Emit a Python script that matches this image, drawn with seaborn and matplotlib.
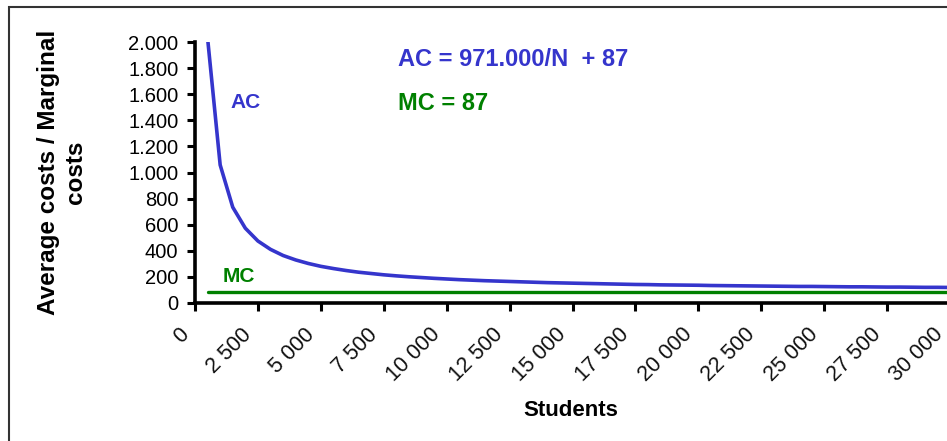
import matplotlib
matplotlib.use("Agg")
import matplotlib.pyplot as plt
import matplotlib.patches as mpatches
from matplotlib.ticker import FuncFormatter
import seaborn as sns
import pandas as pd

# ---- data ----
students = [500, 1000, 1500, 2000, 2500, 3000, 3500, 4000, 4500, 5000,
            5500, 6000, 6500, 7000, 7500, 8000, 8500, 9000, 9500, 10000,
            10500, 11000, 11500, 12000, 12500, 13000, 13500, 14000, 14500, 15000,
            15500, 16000, 16500, 17000, 17500, 18000, 18500, 19000, 19500, 20000,
            20500, 21000, 21500, 22000, 22500, 23000, 23500, 24000, 24500, 25000,
            25500, 26000, 26500, 27000, 27500, 28000, 28500, 29000, 29500, 30000]
ac_values = [2029, 1058, 734, 573, 475, 411, 364, 330, 303, 281,
             264, 249, 236, 226, 216, 208, 201, 195, 189, 184,
             179, 175, 171, 168, 165, 162, 159, 156, 154, 152,
             150, 148, 146, 144, 142, 141, 139, 138, 137, 136,
             134, 133, 132, 131, 130, 129, 128, 127, 127, 126,
             125, 124, 124, 123, 122, 122, 121, 120, 120, 119]
mc_values = [87] * len(students)

x_ticks = [0, 2500, 5000, 7500, 10000, 12500, 15000, 17500, 20000,
           22500, 25000, 27500, 30000]
x_tick_labels = ["0", "2 500", "5 000", "7 500", "10 000", "12 500", "15 000",
                 "17 500", "20 000", "22 500", "25 000", "27 500", "30 000"]
y_ticks = [0, 200, 400, 600, 800, 1000, 1200, 1400, 1600, 1800, 2000]

df = pd.DataFrame({"Students": students, "AC": ac_values, "MC": mc_values})

sns.set_style("ticks")
plt.rcParams["font.family"] = ["Liberation Sans", "DejaVu Sans"]
plt.rcParams["text.color"] = "black"
plt.rcParams["xtick.color"] = "black"
plt.rcParams["ytick.color"] = "black"

BLUE = "#3535CC"
GREEN = "#008000"

fig = plt.figure(figsize=(9.47, 4.41), dpi=100)
ax = fig.add_axes([195 / 947, 1 - 303 / 441, (950 - 195) / 947, (303 - 42) / 441])

sns.lineplot(data=df, x="Students", y="AC", ax=ax, color=BLUE, lw=2.6)
sns.lineplot(data=df, x="Students", y="MC", ax=ax, color=GREEN, lw=2.4)

ax.set_xlim(0, 30000)
ax.set_ylim(0, 2000)
ax.set_xticks(x_ticks)
ax.set_xticklabels([])
ax.set_yticks(y_ticks)
ax.yaxis.set_major_formatter(FuncFormatter(lambda v, p: f"{int(v):,}".replace(",", ".")))

for s in ["top", "right"]:
    ax.spines[s].set_visible(False)
for s in ["left", "bottom"]:
    ax.spines[s].set_linewidth(2.6)
    ax.spines[s].set_color("black")
ax.tick_params(axis="both", direction="out", length=6, width=2.2, color="black")
ax.tick_params(axis="y", labelsize=14.5, pad=6, labelcolor="black")

# rotated category labels, placed below-left of each tick like the original
for xv, txt in zip(x_ticks, x_tick_labels):
    ax.annotate(txt, xy=(xv, 0), xycoords=("data", "axes fraction"),
                xytext=(-17, -21), textcoords="offset pixels",
                ha="right", va="top", rotation=45, rotation_mode="anchor",
                fontsize=15.5, color="#111111", annotation_clip=False)

ax.set_xlabel("")
ax.set_ylabel("")
fig.text(571 / 947, 1 - 410 / 441, "Students", ha="center", va="center",
         fontsize=16, fontweight="bold")
fig.text(62 / 947, 1 - 172 / 441, "Average costs / Marginal\ncosts", ha="center",
         va="center", rotation=90, fontsize=17.5, fontweight="bold", linespacing=1.25)

fig.text(398 / 947, 1 - 60 / 441, "AC = 971.000/N  + 87", ha="left", va="center",
         fontsize=17, fontweight="bold", color=BLUE)
fig.text(398 / 947, 1 - 104 / 441, "MC = 87", ha="left", va="center",
         fontsize=17, fontweight="bold", color=GREEN)
fig.text(230 / 947, 1 - 102 / 441, "AC", ha="left", va="center",
         fontsize=15, fontweight="bold", color=BLUE)
fig.text(223 / 947, 1 - 277 / 441, "MC", ha="left", va="center",
         fontsize=15, fontweight="bold", color=GREEN)

frame = mpatches.Rectangle((9 / 947, -0.2), 2.0, 1 - 7 / 441 + 0.2,
                           transform=fig.transFigure, fill=False,
                           edgecolor="#333333", lw=1.5, clip_on=False)
fig.patches.append(frame)

fig.savefig("out.png", dpi=100)
